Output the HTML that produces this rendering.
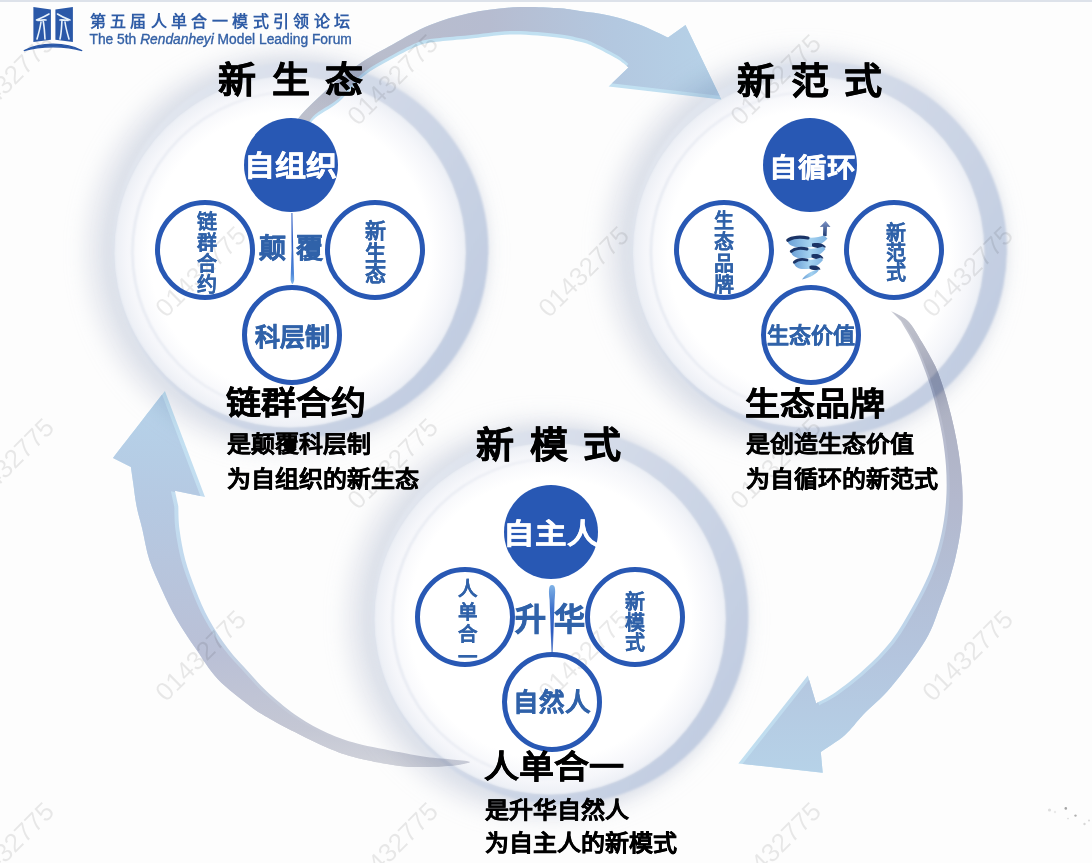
<!DOCTYPE html>
<html lang="zh-CN"><head><meta charset="utf-8">
<style>
html,body{margin:0;padding:0;width:1092px;height:863px;overflow:hidden;background:#fdfdfd}
body{position:relative;font-family:"Liberation Sans",sans-serif}
.t{position:absolute;white-space:nowrap}
.fc{position:absolute;width:94px;height:94px;border-radius:50%;background:#2858b4}
.oc{position:absolute;width:90px;height:90px;border-radius:50%;border:5px solid #2858b4;background:transparent}
.needle{position:absolute;width:3px;background:linear-gradient(#8fb0dd,#3b6cc0 50%,#c9daf0)}
</style></head><body>
<svg width="1092" height="863" viewBox="0 0 1092 863" style="position:absolute;left:0;top:0">
<defs>
 <filter id="b10" x="-30%" y="-30%" width="160%" height="160%"><feGaussianBlur stdDeviation="10"/></filter>
 <filter id="b6" x="-30%" y="-30%" width="160%" height="160%"><feGaussianBlur stdDeviation="6"/></filter>
 <filter id="b3" x="-30%" y="-30%" width="160%" height="160%"><feGaussianBlur stdDeviation="3"/></filter>
 <filter id="b1" x="-30%" y="-30%" width="160%" height="160%"><feGaussianBlur stdDeviation="0.9"/></filter>
 <linearGradient id="cres" x1="0" y1="0.2" x2="1" y2="0.8">
   <stop offset="0" stop-color="#e4e8f0"/><stop offset="0.5" stop-color="#d0d8e7"/><stop offset="1" stop-color="#bfcbe0"/>
 </linearGradient>
 <linearGradient id="iline" x1="0" y1="0" x2="1" y2="0"><stop offset="0" stop-color="#e2e6ef"/><stop offset="0.45" stop-color="#eceef4"/><stop offset="0.75" stop-color="#ffffff" stop-opacity="0"/></linearGradient>
 <radialGradient id="disc" cx="0.5" cy="0.5" r="0.5">
   <stop offset="0" stop-color="#ffffff"/><stop offset="0.80" stop-color="#ffffff"/><stop offset="0.93" stop-color="#f5f6fa"/><stop offset="1" stop-color="#eceff5"/>
 </radialGradient>
</defs>
<rect width="1092" height="863" fill="#fdfdfd"/>
<rect width="1092" height="2" fill="#dde2ea"/>

<circle cx="286.6" cy="251.5" r="181.8" fill="none" stroke="#c4cbdb" stroke-opacity="0.38" stroke-width="40" filter="url(#b10)"/>
<circle cx="294.6" cy="250.5" r="181.8" fill="none" stroke="#c0c8da" stroke-opacity="0.28" stroke-width="22" filter="url(#b6)"/>
<circle cx="290.2" cy="251.9" r="175.8" fill="url(#disc)"/>
<circle cx="292.2" cy="251.9" r="159.8" fill="none" stroke="url(#iline)" stroke-width="2" filter="url(#b1)"/>
<path d="M112.8,249.5 a187.8,187.8 0 1,0 375.6,0 a187.8,187.8 0 1,0 -375.6,0 Z M114.4,251.9 a175.8,175.8 0 1,0 351.6,0 a175.8,175.8 0 1,0 -351.6,0 Z" fill-rule="evenodd" fill="url(#cres)" filter="url(#b1)"/>
<circle cx="805.1" cy="251.5" r="181.8" fill="none" stroke="#c4cbdb" stroke-opacity="0.38" stroke-width="40" filter="url(#b10)"/>
<circle cx="813.1" cy="250.5" r="181.8" fill="none" stroke="#c0c8da" stroke-opacity="0.28" stroke-width="22" filter="url(#b6)"/>
<circle cx="808.7" cy="251.9" r="175.8" fill="url(#disc)"/>
<circle cx="810.7" cy="251.9" r="159.8" fill="none" stroke="url(#iline)" stroke-width="2" filter="url(#b1)"/>
<path d="M631.3,249.5 a187.8,187.8 0 1,0 375.6,0 a187.8,187.8 0 1,0 -375.6,0 Z M632.9,251.9 a175.8,175.8 0 1,0 351.6,0 a175.8,175.8 0 1,0 -351.6,0 Z" fill-rule="evenodd" fill="url(#cres)" filter="url(#b1)"/>
<circle cx="546.6" cy="618.5" r="181.8" fill="none" stroke="#c4cbdb" stroke-opacity="0.38" stroke-width="40" filter="url(#b10)"/>
<circle cx="554.6" cy="617.5" r="181.8" fill="none" stroke="#c0c8da" stroke-opacity="0.28" stroke-width="22" filter="url(#b6)"/>
<circle cx="550.2" cy="618.9" r="175.8" fill="url(#disc)"/>
<circle cx="552.2" cy="618.9" r="159.8" fill="none" stroke="url(#iline)" stroke-width="2" filter="url(#b1)"/>
<path d="M372.8,616.5 a187.8,187.8 0 1,0 375.6,0 a187.8,187.8 0 1,0 -375.6,0 Z M374.4,618.9 a175.8,175.8 0 1,0 351.6,0 a175.8,175.8 0 1,0 -351.6,0 Z" fill-rule="evenodd" fill="url(#cres)" filter="url(#b1)"/>
<linearGradient id="gTop" gradientUnits="userSpaceOnUse" x1="300" y1="0" x2="720" y2="0"><stop offset="0" stop-color="#bdc0cc"/><stop offset="0.45" stop-color="#b8bed2"/><stop offset="0.75" stop-color="#b5cae2"/><stop offset="1" stop-color="#b8d4ea"/></linearGradient>
<clipPath id="cpA"><path d="M288.0,138.0 C289.8,134.6 292.0,125.9 299.0,117.4 C306.0,108.9 319.5,96.2 330.0,87.0 C340.5,77.8 351.4,69.4 361.8,62.3 C372.2,55.2 381.2,50.6 392.6,44.4 C404.0,38.2 417.3,30.3 430.0,25.1 C442.7,19.9 455.2,16.2 469.0,13.2 C482.8,10.2 498.3,8.2 513.0,7.3 C527.7,6.4 545.8,7.4 557.0,8.0 C568.2,8.6 571.3,9.8 580.0,11.0 C588.7,12.2 599.2,13.2 609.0,15.4 C618.8,17.6 628.8,20.5 638.6,24.2 C648.4,27.9 663.1,35.2 668.0,37.4 L685.5,24.9 L721.4,99.6 L608.6,86.4 L628.4,67.4 C626.4,65.9 622.2,62.0 616.6,58.6 C611.0,55.2 600.8,49.7 594.7,46.9 C588.6,44.1 586.3,43.4 580.0,41.8 C573.7,40.2 568.2,38.6 557.0,37.4 C545.8,36.2 527.7,34.2 513.0,34.4 C498.3,34.6 481.2,37.6 469.0,38.8 C456.8,40.0 448.2,40.5 440.0,41.5 C431.8,42.5 427.9,42.2 420.0,45.0 C412.1,47.8 402.1,53.3 392.6,58.5 C383.1,63.7 372.0,69.2 363.0,76.4 C354.0,83.7 347.0,94.7 338.7,102.0 C330.4,109.3 318.9,113.7 313.0,120.0 C307.1,126.3 304.7,136.7 303.0,140.0 Z"/></clipPath>
<g style="mix-blend-mode:multiply"><path d="M288.0,138.0 C289.8,134.6 292.0,125.9 299.0,117.4 C306.0,108.9 319.5,96.2 330.0,87.0 C340.5,77.8 351.4,69.4 361.8,62.3 C372.2,55.2 381.2,50.6 392.6,44.4 C404.0,38.2 417.3,30.3 430.0,25.1 C442.7,19.9 455.2,16.2 469.0,13.2 C482.8,10.2 498.3,8.2 513.0,7.3 C527.7,6.4 545.8,7.4 557.0,8.0 C568.2,8.6 571.3,9.8 580.0,11.0 C588.7,12.2 599.2,13.2 609.0,15.4 C618.8,17.6 628.8,20.5 638.6,24.2 C648.4,27.9 663.1,35.2 668.0,37.4 L685.5,24.9 L721.4,99.6 L608.6,86.4 L628.4,67.4 C626.4,65.9 622.2,62.0 616.6,58.6 C611.0,55.2 600.8,49.7 594.7,46.9 C588.6,44.1 586.3,43.4 580.0,41.8 C573.7,40.2 568.2,38.6 557.0,37.4 C545.8,36.2 527.7,34.2 513.0,34.4 C498.3,34.6 481.2,37.6 469.0,38.8 C456.8,40.0 448.2,40.5 440.0,41.5 C431.8,42.5 427.9,42.2 420.0,45.0 C412.1,47.8 402.1,53.3 392.6,58.5 C383.1,63.7 372.0,69.2 363.0,76.4 C354.0,83.7 347.0,94.7 338.7,102.0 C330.4,109.3 318.9,113.7 313.0,120.0 C307.1,126.3 304.7,136.7 303.0,140.0 Z" fill="#c3e2f3"/>
<g clip-path="url(#cpA)"><path d="M288.0,138.0 C289.8,134.6 292.0,125.9 299.0,117.4 C306.0,108.9 319.5,96.2 330.0,87.0 C340.5,77.8 351.4,69.4 361.8,62.3 C372.2,55.2 381.2,50.6 392.6,44.4 C404.0,38.2 417.3,30.3 430.0,25.1 C442.7,19.9 455.2,16.2 469.0,13.2 C482.8,10.2 498.3,8.2 513.0,7.3 C527.7,6.4 545.8,7.4 557.0,8.0 C568.2,8.6 571.3,9.8 580.0,11.0 C588.7,12.2 599.2,13.2 609.0,15.4 C618.8,17.6 628.8,20.5 638.6,24.2 C648.4,27.9 663.1,35.2 668.0,37.4 L685.5,24.9 L721.4,99.6 L608.6,86.4 L628.4,67.4 C626.4,65.9 622.2,62.0 616.6,58.6 C611.0,55.2 600.8,49.7 594.7,46.9 C588.6,44.1 586.3,43.4 580.0,41.8 C573.7,40.2 568.2,38.6 557.0,37.4 C545.8,36.2 527.7,34.2 513.0,34.4 C498.3,34.6 481.2,37.6 469.0,38.8 C456.8,40.0 448.2,40.5 440.0,41.5 C431.8,42.5 427.9,42.2 420.0,45.0 C412.1,47.8 402.1,53.3 392.6,58.5 C383.1,63.7 372.0,69.2 363.0,76.4 C354.0,83.7 347.0,94.7 338.7,102.0 C330.4,109.3 318.9,113.7 313.0,120.0 C307.1,126.3 304.7,136.7 303.0,140.0 Z" fill="url(#gTop)" transform="translate(0,-3.5)"/></g></g>
<linearGradient id="gR" gradientUnits="userSpaceOnUse" x1="0" y1="310" x2="0" y2="770"><stop offset="0" stop-color="#c2c4ce"/><stop offset="0.12" stop-color="#aeb1c0"/><stop offset="0.4" stop-color="#b5bacf"/><stop offset="0.75" stop-color="#b6c7e0"/><stop offset="1" stop-color="#b8d4ea"/></linearGradient>
<clipPath id="cpR"><path d="M891.0,311.0 C893.8,312.6 902.7,315.8 907.8,320.9 C912.9,326.0 917.1,334.0 921.7,341.7 C926.3,349.4 931.9,358.8 935.6,366.8 C939.3,374.9 941.4,382.0 944.0,390.0 C946.6,398.0 948.9,406.7 951.0,415.0 C953.1,423.3 954.9,431.5 956.5,440.0 C958.1,448.5 959.5,457.2 960.5,466.0 C961.5,474.8 962.3,484.0 962.5,493.0 C962.7,502.0 962.6,510.9 961.8,520.0 C961.0,529.1 959.5,538.5 957.6,547.8 C955.8,557.1 953.5,566.3 950.7,575.6 C947.9,584.9 945.1,592.7 940.9,603.4 C936.7,614.1 933.9,626.1 925.6,640.0 C917.3,653.9 901.7,674.4 891.3,686.8 C880.9,699.2 871.1,706.6 863.4,714.6 C855.7,722.6 852.1,728.8 845.0,735.0 C837.9,741.2 824.8,749.2 820.8,752.0 L822.7,772.7 L738.3,763.5 L807.8,675.6 L816.2,703.4 C819.4,701.5 827.7,697.8 835.6,692.3 C843.5,686.8 854.1,678.7 863.4,670.1 C872.7,661.5 883.0,651.6 891.3,640.9 C899.6,630.2 906.8,616.9 913.0,606.0 C919.2,595.1 924.2,585.3 928.4,575.6 C932.6,565.9 935.4,557.3 938.0,548.0 C940.6,538.7 942.6,529.2 944.0,520.0 C945.4,510.8 946.2,502.0 946.5,493.0 C946.8,484.0 946.6,474.8 946.0,466.0 C945.4,457.2 944.3,448.5 943.0,440.0 C941.7,431.5 939.9,423.3 938.0,415.0 C936.1,406.7 933.8,397.8 931.5,390.0 C929.2,382.2 926.9,375.7 924.0,368.0 C921.1,360.3 917.9,351.9 914.0,344.0 C910.1,336.1 903.1,324.8 900.9,320.9 Z"/></clipPath>
<linearGradient id="gRb" gradientUnits="userSpaceOnUse" x1="0" y1="310" x2="0" y2="770"><stop offset="0" stop-color="#c6c8d2"/><stop offset="0.3" stop-color="#b9bdd0"/><stop offset="0.6" stop-color="#c0d4ea"/><stop offset="1" stop-color="#c3e2f3"/></linearGradient>
<g style="mix-blend-mode:multiply"><path d="M891.0,311.0 C893.8,312.6 902.7,315.8 907.8,320.9 C912.9,326.0 917.1,334.0 921.7,341.7 C926.3,349.4 931.9,358.8 935.6,366.8 C939.3,374.9 941.4,382.0 944.0,390.0 C946.6,398.0 948.9,406.7 951.0,415.0 C953.1,423.3 954.9,431.5 956.5,440.0 C958.1,448.5 959.5,457.2 960.5,466.0 C961.5,474.8 962.3,484.0 962.5,493.0 C962.7,502.0 962.6,510.9 961.8,520.0 C961.0,529.1 959.5,538.5 957.6,547.8 C955.8,557.1 953.5,566.3 950.7,575.6 C947.9,584.9 945.1,592.7 940.9,603.4 C936.7,614.1 933.9,626.1 925.6,640.0 C917.3,653.9 901.7,674.4 891.3,686.8 C880.9,699.2 871.1,706.6 863.4,714.6 C855.7,722.6 852.1,728.8 845.0,735.0 C837.9,741.2 824.8,749.2 820.8,752.0 L822.7,772.7 L738.3,763.5 L807.8,675.6 L816.2,703.4 C819.4,701.5 827.7,697.8 835.6,692.3 C843.5,686.8 854.1,678.7 863.4,670.1 C872.7,661.5 883.0,651.6 891.3,640.9 C899.6,630.2 906.8,616.9 913.0,606.0 C919.2,595.1 924.2,585.3 928.4,575.6 C932.6,565.9 935.4,557.3 938.0,548.0 C940.6,538.7 942.6,529.2 944.0,520.0 C945.4,510.8 946.2,502.0 946.5,493.0 C946.8,484.0 946.6,474.8 946.0,466.0 C945.4,457.2 944.3,448.5 943.0,440.0 C941.7,431.5 939.9,423.3 938.0,415.0 C936.1,406.7 933.8,397.8 931.5,390.0 C929.2,382.2 926.9,375.7 924.0,368.0 C921.1,360.3 917.9,351.9 914.0,344.0 C910.1,336.1 903.1,324.8 900.9,320.9 Z" fill="url(#gRb)"/>
<g clip-path="url(#cpR)"><path d="M891.0,311.0 C893.8,312.6 902.7,315.8 907.8,320.9 C912.9,326.0 917.1,334.0 921.7,341.7 C926.3,349.4 931.9,358.8 935.6,366.8 C939.3,374.9 941.4,382.0 944.0,390.0 C946.6,398.0 948.9,406.7 951.0,415.0 C953.1,423.3 954.9,431.5 956.5,440.0 C958.1,448.5 959.5,457.2 960.5,466.0 C961.5,474.8 962.3,484.0 962.5,493.0 C962.7,502.0 962.6,510.9 961.8,520.0 C961.0,529.1 959.5,538.5 957.6,547.8 C955.8,557.1 953.5,566.3 950.7,575.6 C947.9,584.9 945.1,592.7 940.9,603.4 C936.7,614.1 933.9,626.1 925.6,640.0 C917.3,653.9 901.7,674.4 891.3,686.8 C880.9,699.2 871.1,706.6 863.4,714.6 C855.7,722.6 852.1,728.8 845.0,735.0 C837.9,741.2 824.8,749.2 820.8,752.0 L822.7,772.7 L738.3,763.5 L807.8,675.6 L816.2,703.4 C819.4,701.5 827.7,697.8 835.6,692.3 C843.5,686.8 854.1,678.7 863.4,670.1 C872.7,661.5 883.0,651.6 891.3,640.9 C899.6,630.2 906.8,616.9 913.0,606.0 C919.2,595.1 924.2,585.3 928.4,575.6 C932.6,565.9 935.4,557.3 938.0,548.0 C940.6,538.7 942.6,529.2 944.0,520.0 C945.4,510.8 946.2,502.0 946.5,493.0 C946.8,484.0 946.6,474.8 946.0,466.0 C945.4,457.2 944.3,448.5 943.0,440.0 C941.7,431.5 939.9,423.3 938.0,415.0 C936.1,406.7 933.8,397.8 931.5,390.0 C929.2,382.2 926.9,375.7 924.0,368.0 C921.1,360.3 917.9,351.9 914.0,344.0 C910.1,336.1 903.1,324.8 900.9,320.9 Z" fill="url(#gR)" transform="translate(3,2)"/></g></g>
<linearGradient id="gL" gradientUnits="userSpaceOnUse" x1="0" y1="392" x2="0" y2="765"><stop offset="0" stop-color="#b8d5ec"/><stop offset="0.3" stop-color="#b7cbe4"/><stop offset="0.7" stop-color="#bcc2d8"/><stop offset="0.9" stop-color="#c6c9d6"/><stop offset="1" stop-color="#d2d4dc"/></linearGradient>
<clipPath id="cpL"><path d="M113.0,457.9 C121.7,446.8 156.2,402.1 164.9,391.0 L205.0,497.0 L174.9,490.7 L178.3,506.3 C178.5,510.2 178.3,520.5 179.5,529.5 C180.7,538.5 182.6,549.9 185.3,560.0 C188.0,570.1 191.8,580.1 195.7,590.0 C199.6,599.9 203.5,609.5 208.9,619.3 C214.3,629.1 221.1,639.6 227.9,648.6 C234.7,657.6 243.0,666.0 249.9,673.5 C256.8,681.0 261.2,686.4 269.3,693.7 C277.4,701.0 288.8,710.5 298.6,717.1 C308.4,723.7 318.1,728.9 327.9,733.3 C337.7,737.7 345.2,740.3 357.2,743.5 C369.2,746.7 388.4,750.0 400.0,752.3 C411.6,754.5 417.5,755.8 426.5,757.0 C435.5,758.2 446.8,758.9 454.0,759.7 C461.2,760.5 470.0,761.0 470.0,762.0 C470.0,763.0 461.2,764.7 454.0,765.5 C446.8,766.3 435.5,766.9 426.5,767.0 C417.5,767.1 411.6,767.5 400.0,766.0 C388.4,764.5 369.2,761.0 357.2,758.0 C345.2,755.0 337.7,752.0 327.9,748.0 C318.1,744.0 308.4,738.9 298.6,734.0 C288.8,729.1 277.4,723.2 269.3,718.5 C261.2,713.8 258.5,712.6 249.9,706.0 C241.3,699.4 226.7,688.6 217.7,679.0 C208.7,669.4 202.5,658.6 195.7,648.6 C188.8,638.6 182.2,629.1 176.6,619.3 C171.0,609.5 166.5,599.9 162.0,590.0 C157.5,580.1 152.7,570.1 149.4,560.0 C146.1,549.9 144.5,538.5 142.4,529.5 C140.3,520.5 138.1,514.0 136.6,506.3 C135.1,498.6 134.1,489.6 133.2,483.0 C132.2,476.4 131.3,469.7 130.9,467.0 Z"/></clipPath>
<linearGradient id="gLb" gradientUnits="userSpaceOnUse" x1="0" y1="392" x2="0" y2="765"><stop offset="0" stop-color="#c6e5f5"/><stop offset="0.6" stop-color="#c3d8ee"/><stop offset="0.9" stop-color="#c8cbd8"/><stop offset="1" stop-color="#d2d4dc"/></linearGradient>
<g style="mix-blend-mode:multiply"><path d="M113.0,457.9 C121.7,446.8 156.2,402.1 164.9,391.0 L205.0,497.0 L174.9,490.7 L178.3,506.3 C178.5,510.2 178.3,520.5 179.5,529.5 C180.7,538.5 182.6,549.9 185.3,560.0 C188.0,570.1 191.8,580.1 195.7,590.0 C199.6,599.9 203.5,609.5 208.9,619.3 C214.3,629.1 221.1,639.6 227.9,648.6 C234.7,657.6 243.0,666.0 249.9,673.5 C256.8,681.0 261.2,686.4 269.3,693.7 C277.4,701.0 288.8,710.5 298.6,717.1 C308.4,723.7 318.1,728.9 327.9,733.3 C337.7,737.7 345.2,740.3 357.2,743.5 C369.2,746.7 388.4,750.0 400.0,752.3 C411.6,754.5 417.5,755.8 426.5,757.0 C435.5,758.2 446.8,758.9 454.0,759.7 C461.2,760.5 470.0,761.0 470.0,762.0 C470.0,763.0 461.2,764.7 454.0,765.5 C446.8,766.3 435.5,766.9 426.5,767.0 C417.5,767.1 411.6,767.5 400.0,766.0 C388.4,764.5 369.2,761.0 357.2,758.0 C345.2,755.0 337.7,752.0 327.9,748.0 C318.1,744.0 308.4,738.9 298.6,734.0 C288.8,729.1 277.4,723.2 269.3,718.5 C261.2,713.8 258.5,712.6 249.9,706.0 C241.3,699.4 226.7,688.6 217.7,679.0 C208.7,669.4 202.5,658.6 195.7,648.6 C188.8,638.6 182.2,629.1 176.6,619.3 C171.0,609.5 166.5,599.9 162.0,590.0 C157.5,580.1 152.7,570.1 149.4,560.0 C146.1,549.9 144.5,538.5 142.4,529.5 C140.3,520.5 138.1,514.0 136.6,506.3 C135.1,498.6 134.1,489.6 133.2,483.0 C132.2,476.4 131.3,469.7 130.9,467.0 Z" fill="url(#gLb)"/>
<g clip-path="url(#cpL)"><path d="M113.0,457.9 C121.7,446.8 156.2,402.1 164.9,391.0 L205.0,497.0 L174.9,490.7 L178.3,506.3 C178.5,510.2 178.3,520.5 179.5,529.5 C180.7,538.5 182.6,549.9 185.3,560.0 C188.0,570.1 191.8,580.1 195.7,590.0 C199.6,599.9 203.5,609.5 208.9,619.3 C214.3,629.1 221.1,639.6 227.9,648.6 C234.7,657.6 243.0,666.0 249.9,673.5 C256.8,681.0 261.2,686.4 269.3,693.7 C277.4,701.0 288.8,710.5 298.6,717.1 C308.4,723.7 318.1,728.9 327.9,733.3 C337.7,737.7 345.2,740.3 357.2,743.5 C369.2,746.7 388.4,750.0 400.0,752.3 C411.6,754.5 417.5,755.8 426.5,757.0 C435.5,758.2 446.8,758.9 454.0,759.7 C461.2,760.5 470.0,761.0 470.0,762.0 C470.0,763.0 461.2,764.7 454.0,765.5 C446.8,766.3 435.5,766.9 426.5,767.0 C417.5,767.1 411.6,767.5 400.0,766.0 C388.4,764.5 369.2,761.0 357.2,758.0 C345.2,755.0 337.7,752.0 327.9,748.0 C318.1,744.0 308.4,738.9 298.6,734.0 C288.8,729.1 277.4,723.2 269.3,718.5 C261.2,713.8 258.5,712.6 249.9,706.0 C241.3,699.4 226.7,688.6 217.7,679.0 C208.7,669.4 202.5,658.6 195.7,648.6 C188.8,638.6 182.2,629.1 176.6,619.3 C171.0,609.5 166.5,599.9 162.0,590.0 C157.5,580.1 152.7,570.1 149.4,560.0 C146.1,549.9 144.5,538.5 142.4,529.5 C140.3,520.5 138.1,514.0 136.6,506.3 C135.1,498.6 134.1,489.6 133.2,483.0 C132.2,476.4 131.3,469.7 130.9,467.0 Z" fill="url(#gL)" transform="translate(-4,0.5)"/></g></g>
<text x="10" y="81" transform="rotate(-45 10 81)" text-anchor="middle" dominant-baseline="middle" font-family="Liberation Sans" font-size="26" fill="#000" fill-opacity="0.085">01432775</text>
<text x="394" y="81" transform="rotate(-45 394 81)" text-anchor="middle" dominant-baseline="middle" font-family="Liberation Sans" font-size="26" fill="#000" fill-opacity="0.085">01432775</text>
<text x="777" y="81" transform="rotate(-45 777 81)" text-anchor="middle" dominant-baseline="middle" font-family="Liberation Sans" font-size="26" fill="#000" fill-opacity="0.085">01432775</text>
<text x="202" y="273" transform="rotate(-45 202 273)" text-anchor="middle" dominant-baseline="middle" font-family="Liberation Sans" font-size="26" fill="#000" fill-opacity="0.085">01432775</text>
<text x="585" y="273" transform="rotate(-45 585 273)" text-anchor="middle" dominant-baseline="middle" font-family="Liberation Sans" font-size="26" fill="#000" fill-opacity="0.085">01432775</text>
<text x="969" y="273" transform="rotate(-45 969 273)" text-anchor="middle" dominant-baseline="middle" font-family="Liberation Sans" font-size="26" fill="#000" fill-opacity="0.085">01432775</text>
<text x="10" y="465" transform="rotate(-45 10 465)" text-anchor="middle" dominant-baseline="middle" font-family="Liberation Sans" font-size="26" fill="#000" fill-opacity="0.085">01432775</text>
<text x="394" y="465" transform="rotate(-45 394 465)" text-anchor="middle" dominant-baseline="middle" font-family="Liberation Sans" font-size="26" fill="#000" fill-opacity="0.085">01432775</text>
<text x="777" y="465" transform="rotate(-45 777 465)" text-anchor="middle" dominant-baseline="middle" font-family="Liberation Sans" font-size="26" fill="#000" fill-opacity="0.085">01432775</text>
<text x="202" y="657" transform="rotate(-45 202 657)" text-anchor="middle" dominant-baseline="middle" font-family="Liberation Sans" font-size="26" fill="#000" fill-opacity="0.085">01432775</text>
<text x="585" y="657" transform="rotate(-45 585 657)" text-anchor="middle" dominant-baseline="middle" font-family="Liberation Sans" font-size="26" fill="#000" fill-opacity="0.085">01432775</text>
<text x="969" y="657" transform="rotate(-45 969 657)" text-anchor="middle" dominant-baseline="middle" font-family="Liberation Sans" font-size="26" fill="#000" fill-opacity="0.085">01432775</text>
<text x="10" y="849" transform="rotate(-45 10 849)" text-anchor="middle" dominant-baseline="middle" font-family="Liberation Sans" font-size="26" fill="#000" fill-opacity="0.085">01432775</text>
<text x="394" y="849" transform="rotate(-45 394 849)" text-anchor="middle" dominant-baseline="middle" font-family="Liberation Sans" font-size="26" fill="#000" fill-opacity="0.085">01432775</text>
<text x="777" y="849" transform="rotate(-45 777 849)" text-anchor="middle" dominant-baseline="middle" font-family="Liberation Sans" font-size="26" fill="#000" fill-opacity="0.085">01432775</text>
<circle cx="1049.5" cy="810" r="1.6" fill="#000" fill-opacity="0.12"/>
<circle cx="1065.8" cy="808.4" r="1.3" fill="#000" fill-opacity="0.35"/>
<circle cx="1075.5" cy="815.6" r="1.2" fill="#000" fill-opacity="0.3"/>
<circle cx="1084.5" cy="824" r="1.2" fill="#000" fill-opacity="0.15"/>
<circle cx="1089" cy="820.5" r="1.0" fill="#000" fill-opacity="0.15"/>
<circle cx="1068" cy="818.6" r="0.8" fill="#000" fill-opacity="0.15"/>
<circle cx="1055" cy="812" r="1.2" fill="#000" fill-opacity="0.08"/>
</svg>
<div class="fc" style="left:244px;top:118px"></div>
<div class="oc" style="left:155px;top:200px"></div>
<div class="oc" style="left:325px;top:200px"></div>
<div class="oc" style="left:242px;top:285px"></div>
<div class="fc" style="left:763px;top:118px"></div>
<div class="oc" style="left:674px;top:200px"></div>
<div class="oc" style="left:844px;top:200px"></div>
<div class="oc" style="left:761px;top:285px"></div>
<div class="fc" style="left:504px;top:485px"></div>
<div class="oc" style="left:415px;top:567px"></div>
<div class="oc" style="left:585px;top:567px"></div>
<div class="oc" style="left:502px;top:652px"></div>
<svg width="1092" height="863" style="position:absolute;left:0;top:0;pointer-events:none" viewBox="0 0 1092 863">
<defs>
<linearGradient id="nd1" x1="0" y1="0" x2="0" y2="1"><stop offset="0" stop-color="#6d8fd6"/><stop offset="0.4" stop-color="#2d5ec6"/><stop offset="0.85" stop-color="#4d86d8"/><stop offset="1" stop-color="#7fb6ec"/></linearGradient>
<linearGradient id="nd2" x1="0" y1="0" x2="0" y2="1"><stop offset="0" stop-color="#7fb2e6"/><stop offset="0.35" stop-color="#3f72cc"/><stop offset="0.7" stop-color="#2b5bc0"/><stop offset="1" stop-color="#6f8fd0"/></linearGradient>
</defs>
<path d="M291.2,213 L292.6,213 L293.2,250 L294.2,280 Q292.4,288 290.6,280 L291.6,250 Z" fill="url(#nd1)"/>
<path d="M552,585 C555.8,585 555.6,591 554.6,600 L552.8,652 L551.4,652 L549.6,600 C548.6,591 548.4,585 552,585 Z" fill="url(#nd2)"/>
</svg>

<div class="t" style="left:218.2px;top:62.1px;font-size:38px;line-height:38px;color:#000;letter-spacing:15.6px;font-weight:bold;-webkit-text-stroke:0.6px #000;transform:scaleY(0.96);transform-origin:0 17.5px;">新生态</div>
<div class="t" style="left:737.2px;top:62.3px;font-size:38px;line-height:38px;color:#000;letter-spacing:15.6px;font-weight:bold;-webkit-text-stroke:0.6px #000;transform:scaleY(0.97);transform-origin:0 17.5px;">新范式</div>
<div class="t" style="left:476.2px;top:426.3px;font-size:38px;line-height:38px;color:#000;letter-spacing:15.6px;font-weight:bold;-webkit-text-stroke:0.6px #000;transform:scaleY(0.97);transform-origin:0 17.5px;">新模式</div>
<div class="t" style="left:226.3px;top:385.3px;font-size:35px;line-height:35px;color:#000;letter-spacing:0px;font-weight:bold;-webkit-text-stroke:0.5px #000;transform:scaleY(0.91);transform-origin:0 16.1px;">链群合约</div>
<div class="t" style="left:226.5px;top:432.7px;font-size:24px;line-height:24px;color:#000;letter-spacing:0px;font-weight:bold;-webkit-text-stroke:0.4px #000;transform:scaleY(0.93);transform-origin:0 11.0px;">是颠覆科层制</div>
<div class="t" style="left:226.5px;top:467.7px;font-size:24px;line-height:24px;color:#000;letter-spacing:0px;font-weight:bold;-webkit-text-stroke:0.4px #000;transform:scaleY(0.93);transform-origin:0 11.0px;">为自组织的新生态</div>
<div class="t" style="left:745.3px;top:386.3px;font-size:35px;line-height:35px;color:#000;letter-spacing:0px;font-weight:bold;-webkit-text-stroke:0.5px #000;transform:scaleY(0.91);transform-origin:0 16.1px;">生态品牌</div>
<div class="t" style="left:745.5px;top:432.7px;font-size:24px;line-height:24px;color:#000;letter-spacing:0px;font-weight:bold;-webkit-text-stroke:0.4px #000;transform:scaleY(0.93);transform-origin:0 11.0px;">是创造生态价值</div>
<div class="t" style="left:745.5px;top:467.7px;font-size:24px;line-height:24px;color:#000;letter-spacing:0px;font-weight:bold;-webkit-text-stroke:0.4px #000;transform:scaleY(0.93);transform-origin:0 11.0px;">为自循环的新范式</div>
<div class="t" style="left:484.3px;top:749.3px;font-size:35px;line-height:35px;color:#000;letter-spacing:0px;font-weight:bold;-webkit-text-stroke:0.5px #000;transform:scaleY(0.91);transform-origin:0 16.1px;">人单合一</div>
<div class="t" style="left:484.5px;top:798.7px;font-size:24px;line-height:24px;color:#000;letter-spacing:0px;font-weight:bold;-webkit-text-stroke:0.4px #000;transform:scaleY(0.93);transform-origin:0 11.0px;">是升华自然人</div>
<div class="t" style="left:484.5px;top:831.7px;font-size:24px;line-height:24px;color:#000;letter-spacing:0px;font-weight:bold;-webkit-text-stroke:0.4px #000;transform:scaleY(0.93);transform-origin:0 11.0px;">为自主人的新模式</div>
<div class="t" style="left:244.4px;top:150.5px;font-size:31px;line-height:31px;color:#fff;letter-spacing:0px;font-weight:bold;-webkit-text-stroke:0.5px #fff;transform:scaleY(0.92);transform-origin:0 14.3px;">自组织</div>
<div class="t" style="left:197.1px;top:211.8px;font-size:20px;line-height:21.2px;color:#3062a9;letter-spacing:0px;font-weight:bold;-webkit-text-stroke:0.1px #3062a9;">链<br>群<br>合<br>约</div>
<div class="t" style="left:258.5px;top:235.5px;font-size:27px;line-height:27px;color:#3062a9;letter-spacing:10px;font-weight:bold;-webkit-text-stroke:0.5px #3062a9;">颠覆</div>
<div class="t" style="left:364.6px;top:220.2px;font-size:21px;line-height:21.5px;color:#3062a9;letter-spacing:0px;font-weight:bold;-webkit-text-stroke:0.1px #3062a9;">新<br>生<br>态</div>
<div class="t" style="left:254.5px;top:324.5px;font-size:25px;line-height:25px;color:#3062a9;letter-spacing:0px;font-weight:bold;-webkit-text-stroke:0.5px #3062a9;">科层制</div>
<div class="t" style="left:768.9px;top:153.6px;font-size:28.5px;line-height:28.5px;color:#fff;letter-spacing:0px;font-weight:bold;-webkit-text-stroke:0.5px #fff;transform:scaleY(0.92);transform-origin:0 13.1px;">自循环</div>
<div class="t" style="left:714.1px;top:210.7px;font-size:20px;line-height:21.5px;color:#3062a9;letter-spacing:0px;font-weight:bold;-webkit-text-stroke:0.1px #3062a9;">生<br>态<br>品<br>牌</div>
<div class="t" style="left:885.6px;top:223.4px;font-size:20px;line-height:20px;color:#3062a9;letter-spacing:0px;font-weight:bold;-webkit-text-stroke:0.1px #3062a9;">新<br>范<br>式</div>
<div class="t" style="left:766.6px;top:325.4px;font-size:22px;line-height:22px;color:#3062a9;letter-spacing:0px;font-weight:bold;-webkit-text-stroke:0.3px #3062a9;">生态价值</div>
<div class="t" style="left:503.4px;top:519.2px;font-size:31.5px;line-height:31.5px;color:#fff;letter-spacing:0px;font-weight:bold;-webkit-text-stroke:0.5px #fff;transform:scaleY(0.9);transform-origin:0 14.5px;">自主人</div>
<div class="t" style="left:457.6px;top:578.3px;font-size:19.5px;line-height:22.6px;color:#3062a9;letter-spacing:0px;font-weight:bold;-webkit-text-stroke:0.1px #3062a9;">人<br>单<br>合<br>一</div>
<div class="t" style="left:515.4px;top:603.6px;font-size:31px;line-height:31px;color:#3062a9;letter-spacing:8px;font-weight:bold;-webkit-text-stroke:0.9px #3062a9;">升华</div>
<div class="t" style="left:624.6px;top:592.1px;font-size:20px;line-height:20.5px;color:#3062a9;letter-spacing:0px;font-weight:bold;-webkit-text-stroke:0.1px #3062a9;">新<br>模<br>式</div>
<div class="t" style="left:513.0px;top:689.5px;font-size:25.5px;line-height:25.5px;color:#3062a9;letter-spacing:0px;font-weight:bold;-webkit-text-stroke:0.4px #3062a9;">自然人</div>
<svg width="60" height="70" style="position:absolute;left:780px;top:215px" viewBox="780 215 60 70">
<defs>
<linearGradient id="sp" x1="0" y1="0" x2="1" y2="0"><stop offset="0" stop-color="#6a9fd6"/><stop offset="0.55" stop-color="#a4d2f0"/><stop offset="1" stop-color="#80b4e2"/></linearGradient>
<linearGradient id="spa" x1="0" y1="0" x2="0" y2="1"><stop offset="0" stop-color="#7d93c6"/><stop offset="1" stop-color="#1f3a72"/></linearGradient>
</defs>
<path d="M825.6,221 L830.5,227 L827,226.8 L826.6,236 L823,236.5 L823.2,226.8 L819.8,227 Z" fill="url(#spa)"/>
<path d="M787.5,240 C789,236.5 800,236.5 808,237.5 C814,238 820,237 824,235.5 L827.5,238.5 C820,247 810,248 800,247.5 C792,247 787.5,244.5 787.5,240 Z" fill="url(#sp)"/>
<path d="M787.8,240.3 C792,236.8 801,236.6 808,238" stroke="#1b3466" stroke-width="3.2" fill="none" stroke-linecap="round"/>
<path d="M812,243.5 C818,242.3 824,243.5 826,247.3 C820,249 815,248 812,246.3 Z" fill="#1b3466"/>
<path d="M791,251 C793,247.5 802,247.5 808,248.5 C814,249 819,248 823,246.5 L825.5,249 C818,258 809,259 801,258.5 C795,258 791,255.5 791,251 Z" fill="url(#sp)"/>
<path d="M791.3,251.3 C795,248 802,247.8 807,249" stroke="#1b3466" stroke-width="3" fill="none" stroke-linecap="round"/>
<path d="M811.5,254.5 C817,253.3 822,254.8 823.5,258.3 C818,260 814,259 811.5,257.3 Z" fill="#1b3466"/>
<path d="M794,262 C796,258.8 803,258.8 808,259.5 C813,260 817,259 821,257.5 L823,260 C816,268.5 809,269.5 802,269 C797,268.5 794,266 794,262 Z" fill="url(#sp)"/>
<path d="M794.3,262.3 C797.5,259.3 803,259 807,260" stroke="#1b3466" stroke-width="2.8" fill="none" stroke-linecap="round"/>
<path d="M809.5,266 C815,264.8 819.5,266.3 820.5,269.6 C815.5,271 812,270.3 809.5,268.6 Z" fill="#1b3466"/>
<path d="M802,279.5 C805,274.5 812,270.5 819,269.5 C817,274 810,277.5 802,279.5 Z" fill="url(#sp)"/>
</svg>

<svg width="75" height="56" style="position:absolute;left:20px;top:0px" viewBox="20 0 75 56">
<path d="M33.4 6.9 L50.9 9.6 L50.9 39.8 L33.4 41.9 Z" fill="#2a58a8"/>
<path d="M55.4 9.6 L72.9 6.9 L72.9 41.9 L55.4 39.8 Z" fill="#2a58a8"/>
<path d="M36.5 20 C40 18.5 44 17 49 14 M38 20.5 C41 20 44 19.5 46 20 M43 20 C44.5 27 44.5 33 45 39 M41 22 C40 29 38.5 34 37 39" stroke="#e8f2fb" stroke-width="1.6" fill="none" stroke-linecap="round"/>
<path d="M57.5 14 C62 17 66 18.5 70 20 M60 20 C62 19.5 65 20 68 20.5 M62 20 C61.5 27 61.5 33 60 39 M65 22 C66 29 67.5 34 69 39" stroke="#e8f2fb" stroke-width="1.6" fill="none" stroke-linecap="round"/>
<path d="M23.8 50.8 C40 42 66 42 82.2 50.8 C66 45.5 40 45.5 23.8 50.8 Z" fill="#2a58a8" stroke="#2a58a8" stroke-width="1.2"/>
</svg>

<div class="t" style="left:89.5px;top:13.5px;font-size:16px;line-height:16px;color:#2f5ca6;letter-spacing:4.4px;font-weight:bold">第五届人单合一模式引领论坛</div>
<div class="t" style="left:89.5px;top:32px;font-size:13.8px;line-height:16px;color:#3461a6;font-weight:normal;-webkit-text-stroke:0.35px #3461a6">The 5th <i>Rendanheyi</i> Model Leading Forum</div>
</body></html>
